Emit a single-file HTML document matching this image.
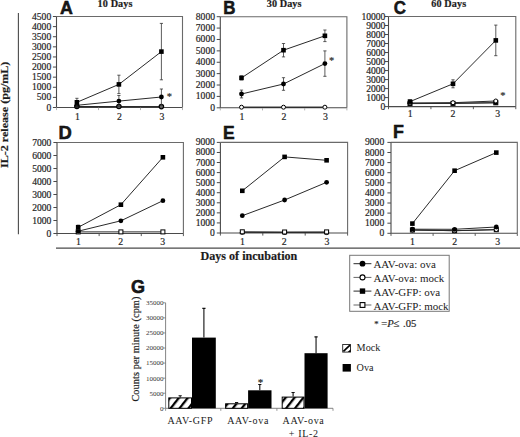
<!DOCTYPE html><html><head><meta charset="utf-8"><style>html,body{margin:0;padding:0;background:#fff;}svg{display:block;}text{font-family:"Liberation Serif", serif;fill:#1a1a1a;stroke:#333;stroke-width:0.2px;} .s{font-family:"Liberation Sans", sans-serif;stroke:none;}</style></head><body>
<svg width="520" height="437" viewBox="0 0 520 437">
<rect width="520" height="437" fill="#fff"/>
<defs><pattern id="hatch" patternUnits="userSpaceOnUse" width="7" height="8" patternTransform="translate(169.5,408) rotate(38)"><rect width="7" height="8" fill="#fff"/><rect width="2.3" height="8" fill="#000"/></pattern></defs>
<path d="M56.5,16.5H182.5V107.5" fill="none" stroke="#6a6a6a" stroke-width="1.1"/>
<path d="M56.5,16.5V107.5H182.5" fill="none" stroke="#4a4a4a" stroke-width="1.1"/>
<line x1="52.90" y1="107.50" x2="56.50" y2="107.50" stroke="#4a4a4a" stroke-width="1"/>
<text x="51.20" y="110.50" text-anchor="end" font-size="9.6">0</text>
<line x1="52.90" y1="97.39" x2="56.50" y2="97.39" stroke="#4a4a4a" stroke-width="1"/>
<text x="51.20" y="100.39" text-anchor="end" font-size="9.6">500</text>
<line x1="52.90" y1="87.28" x2="56.50" y2="87.28" stroke="#4a4a4a" stroke-width="1"/>
<text x="51.20" y="90.28" text-anchor="end" font-size="9.6">1000</text>
<line x1="52.90" y1="77.17" x2="56.50" y2="77.17" stroke="#4a4a4a" stroke-width="1"/>
<text x="51.20" y="80.17" text-anchor="end" font-size="9.6">1500</text>
<line x1="52.90" y1="67.06" x2="56.50" y2="67.06" stroke="#4a4a4a" stroke-width="1"/>
<text x="51.20" y="70.06" text-anchor="end" font-size="9.6">2000</text>
<line x1="52.90" y1="56.94" x2="56.50" y2="56.94" stroke="#4a4a4a" stroke-width="1"/>
<text x="51.20" y="59.94" text-anchor="end" font-size="9.6">2500</text>
<line x1="52.90" y1="46.83" x2="56.50" y2="46.83" stroke="#4a4a4a" stroke-width="1"/>
<text x="51.20" y="49.83" text-anchor="end" font-size="9.6">3000</text>
<line x1="52.90" y1="36.72" x2="56.50" y2="36.72" stroke="#4a4a4a" stroke-width="1"/>
<text x="51.20" y="39.72" text-anchor="end" font-size="9.6">3500</text>
<line x1="52.90" y1="26.61" x2="56.50" y2="26.61" stroke="#4a4a4a" stroke-width="1"/>
<text x="51.20" y="29.61" text-anchor="end" font-size="9.6">4000</text>
<line x1="52.90" y1="16.50" x2="56.50" y2="16.50" stroke="#4a4a4a" stroke-width="1"/>
<text x="51.20" y="19.50" text-anchor="end" font-size="9.6">4500</text>
<line x1="56.50" y1="107.50" x2="56.50" y2="110.10" stroke="#aaa" stroke-width="0.9"/>
<line x1="98.50" y1="107.50" x2="98.50" y2="110.10" stroke="#aaa" stroke-width="0.9"/>
<line x1="140.50" y1="107.50" x2="140.50" y2="110.10" stroke="#aaa" stroke-width="0.9"/>
<line x1="182.50" y1="107.50" x2="182.50" y2="110.10" stroke="#aaa" stroke-width="0.9"/>
<text x="77.40" y="119.90" text-anchor="middle" font-size="9.8">1</text>
<text x="119.40" y="119.90" text-anchor="middle" font-size="9.8">2</text>
<text x="161.90" y="119.90" text-anchor="middle" font-size="9.8">3</text>
<text transform="translate(60.1,13.9) scale(0.95,1)" class="s" font-weight="bold" font-size="18.8" style="stroke:#000;stroke-width:0.5px">A</text>
<text x="97.6" y="7.0" font-weight="bold" font-size="10.2" letter-spacing="0.1">10 Days</text>
<polyline points="76.90,106.80 118.90,106.80 161.40,106.80" fill="none" stroke="#2a2a2a" stroke-width="1"/>
<polyline points="76.90,106.50 118.90,106.50 161.40,106.60" fill="none" stroke="#2a2a2a" stroke-width="1"/>
<circle cx="76.90" cy="106.50" r="2.2" fill="#666" stroke="#000" stroke-width="1.2"/>
<circle cx="118.90" cy="106.50" r="2.2" fill="#666" stroke="#000" stroke-width="1.2"/>
<circle cx="161.40" cy="106.60" r="2.2" fill="#666" stroke="#000" stroke-width="1.2"/>
<polyline points="76.90,105.30 118.90,101.10 161.40,97.00" fill="none" stroke="#2a2a2a" stroke-width="1"/>
<path d="M118.90,95.50V106.70M117.30,95.50H120.50M117.30,106.70H120.50" stroke="#333" stroke-width="0.8" fill="none"/>
<path d="M161.40,89.00V105.00M159.80,89.00H163.00M159.80,105.00H163.00" stroke="#333" stroke-width="0.8" fill="none"/>
<circle cx="76.90" cy="105.30" r="2.4" fill="#000"/>
<circle cx="118.90" cy="101.10" r="2.4" fill="#000"/>
<circle cx="161.40" cy="97.00" r="2.4" fill="#000"/>
<polyline points="76.90,102.30 118.90,84.40 161.40,51.60" fill="none" stroke="#2a2a2a" stroke-width="1"/>
<path d="M76.90,98.30V106.30M75.30,98.30H78.50M75.30,106.30H78.50" stroke="#333" stroke-width="0.8" fill="none"/>
<path d="M118.90,75.20V93.60M117.30,75.20H120.50M117.30,93.60H120.50" stroke="#333" stroke-width="0.8" fill="none"/>
<path d="M161.40,23.40V79.80M159.80,23.40H163.00M159.80,79.80H163.00" stroke="#333" stroke-width="0.8" fill="none"/>
<rect x="74.60" y="100.00" width="4.6" height="4.6" fill="#000"/>
<rect x="116.60" y="82.10" width="4.6" height="4.6" fill="#000"/>
<rect x="159.10" y="49.30" width="4.6" height="4.6" fill="#000"/>
<text x="169.4" y="99.7" text-anchor="middle" font-size="10.5" style="fill:#444">*</text>
<path d="M220.3,16.7H346.9V107.8" fill="none" stroke="#6a6a6a" stroke-width="1.1"/>
<path d="M220.3,16.7V107.8H346.9" fill="none" stroke="#4a4a4a" stroke-width="1.1"/>
<line x1="216.70" y1="107.80" x2="220.30" y2="107.80" stroke="#4a4a4a" stroke-width="1"/>
<text x="215.00" y="110.80" text-anchor="end" font-size="9.6">0</text>
<line x1="216.70" y1="96.41" x2="220.30" y2="96.41" stroke="#4a4a4a" stroke-width="1"/>
<text x="215.00" y="99.41" text-anchor="end" font-size="9.6">1000</text>
<line x1="216.70" y1="85.03" x2="220.30" y2="85.03" stroke="#4a4a4a" stroke-width="1"/>
<text x="215.00" y="88.03" text-anchor="end" font-size="9.6">2000</text>
<line x1="216.70" y1="73.64" x2="220.30" y2="73.64" stroke="#4a4a4a" stroke-width="1"/>
<text x="215.00" y="76.64" text-anchor="end" font-size="9.6">3000</text>
<line x1="216.70" y1="62.25" x2="220.30" y2="62.25" stroke="#4a4a4a" stroke-width="1"/>
<text x="215.00" y="65.25" text-anchor="end" font-size="9.6">4000</text>
<line x1="216.70" y1="50.86" x2="220.30" y2="50.86" stroke="#4a4a4a" stroke-width="1"/>
<text x="215.00" y="53.86" text-anchor="end" font-size="9.6">5000</text>
<line x1="216.70" y1="39.48" x2="220.30" y2="39.48" stroke="#4a4a4a" stroke-width="1"/>
<text x="215.00" y="42.48" text-anchor="end" font-size="9.6">6000</text>
<line x1="216.70" y1="28.09" x2="220.30" y2="28.09" stroke="#4a4a4a" stroke-width="1"/>
<text x="215.00" y="31.09" text-anchor="end" font-size="9.6">7000</text>
<line x1="216.70" y1="16.70" x2="220.30" y2="16.70" stroke="#4a4a4a" stroke-width="1"/>
<text x="215.00" y="19.70" text-anchor="end" font-size="9.6">8000</text>
<line x1="220.30" y1="107.80" x2="220.30" y2="110.40" stroke="#aaa" stroke-width="0.9"/>
<line x1="262.50" y1="107.80" x2="262.50" y2="110.40" stroke="#aaa" stroke-width="0.9"/>
<line x1="304.70" y1="107.80" x2="304.70" y2="110.40" stroke="#aaa" stroke-width="0.9"/>
<line x1="346.90" y1="107.80" x2="346.90" y2="110.40" stroke="#aaa" stroke-width="0.9"/>
<text x="242.00" y="119.90" text-anchor="middle" font-size="9.8">1</text>
<text x="284.00" y="119.90" text-anchor="middle" font-size="9.8">2</text>
<text x="325.40" y="119.90" text-anchor="middle" font-size="9.8">3</text>
<text transform="translate(223.3,14.0) scale(0.9,1)" class="s" font-weight="bold" font-size="18.8" style="stroke:#000;stroke-width:0.5px">B</text>
<text x="266.7" y="7.0" font-weight="bold" font-size="10.2" letter-spacing="0.1">30 Days</text>
<polyline points="241.50,107.30 283.50,107.30 324.90,107.30" fill="none" stroke="#2a2a2a" stroke-width="1"/>
<polyline points="241.50,107.20 283.50,107.20 324.90,107.20" fill="none" stroke="#2a2a2a" stroke-width="1"/>
<circle cx="241.50" cy="107.20" r="2.0" fill="#fff" stroke="#000" stroke-width="1"/>
<circle cx="283.50" cy="107.20" r="2.0" fill="#fff" stroke="#000" stroke-width="1"/>
<circle cx="324.90" cy="107.20" r="2.0" fill="#fff" stroke="#000" stroke-width="1"/>
<polyline points="241.50,94.00 283.50,84.00 324.90,63.60" fill="none" stroke="#2a2a2a" stroke-width="1"/>
<path d="M241.50,90.10V97.90M239.90,90.10H243.10M239.90,97.90H243.10" stroke="#333" stroke-width="0.8" fill="none"/>
<path d="M283.50,77.70V90.30M281.90,77.70H285.10M281.90,90.30H285.10" stroke="#333" stroke-width="0.8" fill="none"/>
<path d="M324.90,50.90V76.30M323.30,50.90H326.50M323.30,76.30H326.50" stroke="#333" stroke-width="0.8" fill="none"/>
<circle cx="241.50" cy="94.00" r="2.4" fill="#000"/>
<circle cx="283.50" cy="84.00" r="2.4" fill="#000"/>
<circle cx="324.90" cy="63.60" r="2.4" fill="#000"/>
<polyline points="241.50,77.90 283.50,50.20 324.90,35.80" fill="none" stroke="#2a2a2a" stroke-width="1"/>
<path d="M241.50,75.90V79.90M239.90,75.90H243.10M239.90,79.90H243.10" stroke="#333" stroke-width="0.8" fill="none"/>
<path d="M283.50,43.50V56.90M281.90,43.50H285.10M281.90,56.90H285.10" stroke="#333" stroke-width="0.8" fill="none"/>
<path d="M324.90,30.00V41.60M323.30,30.00H326.50M323.30,41.60H326.50" stroke="#333" stroke-width="0.8" fill="none"/>
<rect x="239.20" y="75.60" width="4.6" height="4.6" fill="#000"/>
<rect x="281.20" y="47.90" width="4.6" height="4.6" fill="#000"/>
<rect x="322.60" y="33.50" width="4.6" height="4.6" fill="#000"/>
<text x="331.7" y="64.4" text-anchor="middle" font-size="10.5" style="fill:#444">*</text>
<path d="M388.5,16.5H515.8V106.6" fill="none" stroke="#6a6a6a" stroke-width="1.1"/>
<path d="M388.5,16.5V106.6H515.8" fill="none" stroke="#4a4a4a" stroke-width="1.1"/>
<line x1="384.90" y1="106.60" x2="388.50" y2="106.60" stroke="#4a4a4a" stroke-width="1"/>
<text x="385.40" y="109.60" text-anchor="end" font-size="9.6">0</text>
<line x1="384.90" y1="97.59" x2="388.50" y2="97.59" stroke="#4a4a4a" stroke-width="1"/>
<text x="385.40" y="100.59" text-anchor="end" font-size="9.6">1000</text>
<line x1="384.90" y1="88.58" x2="388.50" y2="88.58" stroke="#4a4a4a" stroke-width="1"/>
<text x="385.40" y="91.58" text-anchor="end" font-size="9.6">2000</text>
<line x1="384.90" y1="79.57" x2="388.50" y2="79.57" stroke="#4a4a4a" stroke-width="1"/>
<text x="385.40" y="82.57" text-anchor="end" font-size="9.6">3000</text>
<line x1="384.90" y1="70.56" x2="388.50" y2="70.56" stroke="#4a4a4a" stroke-width="1"/>
<text x="385.40" y="73.56" text-anchor="end" font-size="9.6">4000</text>
<line x1="384.90" y1="61.55" x2="388.50" y2="61.55" stroke="#4a4a4a" stroke-width="1"/>
<text x="385.40" y="64.55" text-anchor="end" font-size="9.6">5000</text>
<line x1="384.90" y1="52.54" x2="388.50" y2="52.54" stroke="#4a4a4a" stroke-width="1"/>
<text x="385.40" y="55.54" text-anchor="end" font-size="9.6">6000</text>
<line x1="384.90" y1="43.53" x2="388.50" y2="43.53" stroke="#4a4a4a" stroke-width="1"/>
<text x="385.40" y="46.53" text-anchor="end" font-size="9.6">7000</text>
<line x1="384.90" y1="34.52" x2="388.50" y2="34.52" stroke="#4a4a4a" stroke-width="1"/>
<text x="385.40" y="37.52" text-anchor="end" font-size="9.6">8000</text>
<line x1="384.90" y1="25.51" x2="388.50" y2="25.51" stroke="#4a4a4a" stroke-width="1"/>
<text x="385.40" y="28.51" text-anchor="end" font-size="9.6">9000</text>
<line x1="384.90" y1="16.50" x2="388.50" y2="16.50" stroke="#4a4a4a" stroke-width="1"/>
<text x="385.40" y="19.50" text-anchor="end" font-size="9.6">10000</text>
<line x1="388.50" y1="106.60" x2="388.50" y2="109.20" stroke="#4a4a4a" stroke-width="0.9"/>
<line x1="430.93" y1="106.60" x2="430.93" y2="109.20" stroke="#4a4a4a" stroke-width="0.9"/>
<line x1="473.37" y1="106.60" x2="473.37" y2="109.20" stroke="#4a4a4a" stroke-width="0.9"/>
<line x1="515.80" y1="106.60" x2="515.80" y2="109.20" stroke="#4a4a4a" stroke-width="0.9"/>
<text x="410.20" y="117.30" text-anchor="middle" font-size="9.8">1</text>
<text x="453.00" y="117.30" text-anchor="middle" font-size="9.8">2</text>
<text x="497.60" y="117.30" text-anchor="middle" font-size="9.8">3</text>
<text transform="translate(393.8,13.9) scale(0.9,1)" class="s" font-weight="bold" font-size="18.8" style="stroke:#000;stroke-width:0.5px">C</text>
<text x="431.3" y="7.0" font-weight="bold" font-size="10.2" letter-spacing="0.1">60 Days</text>
<polyline points="410.00,103.60 453.00,103.40 495.80,102.80" fill="none" stroke="#2a2a2a" stroke-width="1"/>
<rect x="408.00" y="101.60" width="4" height="4" fill="#fff" stroke="#000" stroke-width="1"/>
<rect x="451.00" y="101.40" width="4" height="4" fill="#fff" stroke="#000" stroke-width="1"/>
<rect x="493.80" y="100.80" width="4" height="4" fill="#fff" stroke="#000" stroke-width="1"/>
<polyline points="410.00,103.40 453.00,103.20 495.80,102.70" fill="none" stroke="#2a2a2a" stroke-width="1"/>
<circle cx="410.00" cy="103.40" r="2.4" fill="#000"/>
<circle cx="453.00" cy="103.20" r="2.4" fill="#000"/>
<circle cx="495.80" cy="102.70" r="2.4" fill="#000"/>
<polyline points="410.00,103.00 453.00,102.70 495.80,101.00" fill="none" stroke="#2a2a2a" stroke-width="1"/>
<circle cx="410.00" cy="103.00" r="2.0" fill="#fff" stroke="#000" stroke-width="1"/>
<circle cx="453.00" cy="102.70" r="2.0" fill="#fff" stroke="#000" stroke-width="1"/>
<circle cx="495.80" cy="101.00" r="2.0" fill="#fff" stroke="#000" stroke-width="1"/>
<polyline points="410.00,101.60 453.00,83.80 495.80,40.40" fill="none" stroke="#2a2a2a" stroke-width="1"/>
<path d="M410.00,100.10V103.10M408.40,100.10H411.60M408.40,103.10H411.60" stroke="#333" stroke-width="0.8" fill="none"/>
<path d="M453.00,79.80V87.80M451.40,79.80H454.60M451.40,87.80H454.60" stroke="#333" stroke-width="0.8" fill="none"/>
<path d="M495.80,25.10V55.70M494.20,25.10H497.40M494.20,55.70H497.40" stroke="#333" stroke-width="0.8" fill="none"/>
<rect x="407.70" y="99.30" width="4.6" height="4.6" fill="#000"/>
<rect x="450.70" y="81.50" width="4.6" height="4.6" fill="#000"/>
<rect x="493.50" y="38.10" width="4.6" height="4.6" fill="#000"/>
<text x="502.9" y="98.8" text-anchor="middle" font-size="10.5" style="fill:#444">*</text>
<path d="M57.0,142.5H183.4V233.5" fill="none" stroke="#6a6a6a" stroke-width="1.1"/>
<path d="M57.0,142.5V233.5H183.4" fill="none" stroke="#4a4a4a" stroke-width="1.1"/>
<line x1="53.40" y1="233.50" x2="57.00" y2="233.50" stroke="#4a4a4a" stroke-width="1"/>
<text x="51.40" y="236.50" text-anchor="end" font-size="9.6">0</text>
<line x1="53.40" y1="220.50" x2="57.00" y2="220.50" stroke="#4a4a4a" stroke-width="1"/>
<text x="51.40" y="223.50" text-anchor="end" font-size="9.6">1000</text>
<line x1="53.40" y1="207.50" x2="57.00" y2="207.50" stroke="#4a4a4a" stroke-width="1"/>
<text x="51.40" y="210.50" text-anchor="end" font-size="9.6">2000</text>
<line x1="53.40" y1="194.50" x2="57.00" y2="194.50" stroke="#4a4a4a" stroke-width="1"/>
<text x="51.40" y="197.50" text-anchor="end" font-size="9.6">3000</text>
<line x1="53.40" y1="181.50" x2="57.00" y2="181.50" stroke="#4a4a4a" stroke-width="1"/>
<text x="51.40" y="184.50" text-anchor="end" font-size="9.6">4000</text>
<line x1="53.40" y1="168.50" x2="57.00" y2="168.50" stroke="#4a4a4a" stroke-width="1"/>
<text x="51.40" y="171.50" text-anchor="end" font-size="9.6">5000</text>
<line x1="53.40" y1="155.50" x2="57.00" y2="155.50" stroke="#4a4a4a" stroke-width="1"/>
<text x="51.40" y="158.50" text-anchor="end" font-size="9.6">6000</text>
<line x1="53.40" y1="142.50" x2="57.00" y2="142.50" stroke="#4a4a4a" stroke-width="1"/>
<text x="51.40" y="145.50" text-anchor="end" font-size="9.6">7000</text>
<line x1="57.00" y1="233.50" x2="57.00" y2="236.10" stroke="#4a4a4a" stroke-width="0.9"/>
<line x1="99.13" y1="233.50" x2="99.13" y2="236.10" stroke="#4a4a4a" stroke-width="0.9"/>
<line x1="141.27" y1="233.50" x2="141.27" y2="236.10" stroke="#4a4a4a" stroke-width="0.9"/>
<line x1="183.40" y1="233.50" x2="183.40" y2="236.10" stroke="#4a4a4a" stroke-width="0.9"/>
<text x="78.40" y="245.30" text-anchor="middle" font-size="9.8">1</text>
<text x="120.70" y="245.30" text-anchor="middle" font-size="9.8">2</text>
<text x="162.60" y="245.30" text-anchor="middle" font-size="9.8">3</text>
<text transform="translate(58.4,139.2) scale(0.98,1)" class="s" font-weight="bold" font-size="18.8" style="stroke:#000;stroke-width:0.5px">D</text>
<polyline points="78.20,231.90 120.90,231.90 162.90,231.90" fill="none" stroke="#2a2a2a" stroke-width="1"/>
<rect x="76.20" y="229.90" width="4" height="4" fill="#fff" stroke="#000" stroke-width="1"/>
<rect x="118.90" y="229.90" width="4" height="4" fill="#fff" stroke="#000" stroke-width="1"/>
<rect x="160.90" y="229.90" width="4" height="4" fill="#fff" stroke="#000" stroke-width="1"/>
<polyline points="78.20,231.20 120.90,220.80 162.90,200.70" fill="none" stroke="#2a2a2a" stroke-width="1"/>
<circle cx="78.20" cy="231.20" r="2.4" fill="#000"/>
<circle cx="120.90" cy="220.80" r="2.4" fill="#000"/>
<circle cx="162.90" cy="200.70" r="2.4" fill="#000"/>
<polyline points="78.20,227.30 120.90,204.70 162.90,157.30" fill="none" stroke="#2a2a2a" stroke-width="1"/>
<path d="M78.20,225.10V229.50M76.60,225.10H79.80M76.60,229.50H79.80" stroke="#333" stroke-width="0.8" fill="none"/>
<rect x="75.90" y="225.00" width="4.6" height="4.6" fill="#000"/>
<rect x="118.60" y="202.40" width="4.6" height="4.6" fill="#000"/>
<rect x="160.60" y="155.00" width="4.6" height="4.6" fill="#000"/>
<path d="M220.4,142.4H347.6V233.0" fill="none" stroke="#6a6a6a" stroke-width="1.1"/>
<path d="M220.4,142.4V233.0H347.6" fill="none" stroke="#4a4a4a" stroke-width="1.1"/>
<line x1="216.80" y1="233.00" x2="220.40" y2="233.00" stroke="#4a4a4a" stroke-width="1"/>
<text x="214.90" y="236.00" text-anchor="end" font-size="9.6">0</text>
<line x1="216.80" y1="222.93" x2="220.40" y2="222.93" stroke="#4a4a4a" stroke-width="1"/>
<text x="214.90" y="225.93" text-anchor="end" font-size="9.6">1000</text>
<line x1="216.80" y1="212.87" x2="220.40" y2="212.87" stroke="#4a4a4a" stroke-width="1"/>
<text x="214.90" y="215.87" text-anchor="end" font-size="9.6">2000</text>
<line x1="216.80" y1="202.80" x2="220.40" y2="202.80" stroke="#4a4a4a" stroke-width="1"/>
<text x="214.90" y="205.80" text-anchor="end" font-size="9.6">3000</text>
<line x1="216.80" y1="192.73" x2="220.40" y2="192.73" stroke="#4a4a4a" stroke-width="1"/>
<text x="214.90" y="195.73" text-anchor="end" font-size="9.6">4000</text>
<line x1="216.80" y1="182.67" x2="220.40" y2="182.67" stroke="#4a4a4a" stroke-width="1"/>
<text x="214.90" y="185.67" text-anchor="end" font-size="9.6">5000</text>
<line x1="216.80" y1="172.60" x2="220.40" y2="172.60" stroke="#4a4a4a" stroke-width="1"/>
<text x="214.90" y="175.60" text-anchor="end" font-size="9.6">6000</text>
<line x1="216.80" y1="162.53" x2="220.40" y2="162.53" stroke="#4a4a4a" stroke-width="1"/>
<text x="214.90" y="165.53" text-anchor="end" font-size="9.6">7000</text>
<line x1="216.80" y1="152.47" x2="220.40" y2="152.47" stroke="#4a4a4a" stroke-width="1"/>
<text x="214.90" y="155.47" text-anchor="end" font-size="9.6">8000</text>
<line x1="216.80" y1="142.40" x2="220.40" y2="142.40" stroke="#4a4a4a" stroke-width="1"/>
<text x="214.90" y="145.40" text-anchor="end" font-size="9.6">9000</text>
<line x1="220.40" y1="233.00" x2="220.40" y2="235.60" stroke="#4a4a4a" stroke-width="0.9"/>
<line x1="262.80" y1="233.00" x2="262.80" y2="235.60" stroke="#4a4a4a" stroke-width="0.9"/>
<line x1="305.20" y1="233.00" x2="305.20" y2="235.60" stroke="#4a4a4a" stroke-width="0.9"/>
<line x1="347.60" y1="233.00" x2="347.60" y2="235.60" stroke="#4a4a4a" stroke-width="0.9"/>
<text x="242.50" y="245.30" text-anchor="middle" font-size="9.8">1</text>
<text x="284.30" y="245.30" text-anchor="middle" font-size="9.8">2</text>
<text x="326.90" y="245.30" text-anchor="middle" font-size="9.8">3</text>
<text transform="translate(223.0,138.7) scale(0.93,1)" class="s" font-weight="bold" font-size="18.8" style="stroke:#000;stroke-width:0.5px">E</text>
<polyline points="242.30,232.40 284.60,232.50 326.60,232.60" fill="none" stroke="#2a2a2a" stroke-width="1"/>
<circle cx="242.30" cy="232.40" r="2.0" fill="#fff" stroke="#000" stroke-width="1"/>
<circle cx="284.60" cy="232.50" r="2.0" fill="#fff" stroke="#000" stroke-width="1"/>
<circle cx="326.60" cy="232.60" r="2.0" fill="#fff" stroke="#000" stroke-width="1"/>
<polyline points="242.30,231.80 284.60,232.00 326.60,231.90" fill="none" stroke="#2a2a2a" stroke-width="1"/>
<rect x="240.30" y="229.80" width="4" height="4" fill="#fff" stroke="#000" stroke-width="1"/>
<rect x="282.60" y="230.00" width="4" height="4" fill="#fff" stroke="#000" stroke-width="1"/>
<rect x="324.60" y="229.90" width="4" height="4" fill="#fff" stroke="#000" stroke-width="1"/>
<polyline points="242.30,215.70 284.60,200.00 326.60,182.30" fill="none" stroke="#2a2a2a" stroke-width="1"/>
<circle cx="242.30" cy="215.70" r="2.4" fill="#000"/>
<circle cx="284.60" cy="200.00" r="2.4" fill="#000"/>
<circle cx="326.60" cy="182.30" r="2.4" fill="#000"/>
<polyline points="242.30,190.80 284.60,156.90 326.60,160.30" fill="none" stroke="#2a2a2a" stroke-width="1"/>
<rect x="240.00" y="188.50" width="4.6" height="4.6" fill="#000"/>
<rect x="282.30" y="154.60" width="4.6" height="4.6" fill="#000"/>
<rect x="324.30" y="158.00" width="4.6" height="4.6" fill="#000"/>
<path d="M391.0,142.4H517.3V233.3" fill="none" stroke="#6a6a6a" stroke-width="1.1"/>
<path d="M391.0,142.4V233.3H517.3" fill="none" stroke="#4a4a4a" stroke-width="1.1"/>
<line x1="387.40" y1="233.30" x2="391.00" y2="233.30" stroke="#4a4a4a" stroke-width="1"/>
<text x="384.20" y="236.30" text-anchor="end" font-size="9.6">0</text>
<line x1="387.40" y1="223.20" x2="391.00" y2="223.20" stroke="#4a4a4a" stroke-width="1"/>
<text x="384.20" y="226.20" text-anchor="end" font-size="9.6">1000</text>
<line x1="387.40" y1="213.10" x2="391.00" y2="213.10" stroke="#4a4a4a" stroke-width="1"/>
<text x="384.20" y="216.10" text-anchor="end" font-size="9.6">2000</text>
<line x1="387.40" y1="203.00" x2="391.00" y2="203.00" stroke="#4a4a4a" stroke-width="1"/>
<text x="384.20" y="206.00" text-anchor="end" font-size="9.6">3000</text>
<line x1="387.40" y1="192.90" x2="391.00" y2="192.90" stroke="#4a4a4a" stroke-width="1"/>
<text x="384.20" y="195.90" text-anchor="end" font-size="9.6">4000</text>
<line x1="387.40" y1="182.80" x2="391.00" y2="182.80" stroke="#4a4a4a" stroke-width="1"/>
<text x="384.20" y="185.80" text-anchor="end" font-size="9.6">5000</text>
<line x1="387.40" y1="172.70" x2="391.00" y2="172.70" stroke="#4a4a4a" stroke-width="1"/>
<text x="384.20" y="175.70" text-anchor="end" font-size="9.6">6000</text>
<line x1="387.40" y1="162.60" x2="391.00" y2="162.60" stroke="#4a4a4a" stroke-width="1"/>
<text x="384.20" y="165.60" text-anchor="end" font-size="9.6">7000</text>
<line x1="387.40" y1="152.50" x2="391.00" y2="152.50" stroke="#4a4a4a" stroke-width="1"/>
<text x="384.20" y="155.50" text-anchor="end" font-size="9.6">8000</text>
<line x1="387.40" y1="142.40" x2="391.00" y2="142.40" stroke="#4a4a4a" stroke-width="1"/>
<text x="384.20" y="145.40" text-anchor="end" font-size="9.6">9000</text>
<line x1="391.00" y1="233.30" x2="391.00" y2="235.90" stroke="#4a4a4a" stroke-width="0.9"/>
<line x1="433.10" y1="233.30" x2="433.10" y2="235.90" stroke="#4a4a4a" stroke-width="0.9"/>
<line x1="475.20" y1="233.30" x2="475.20" y2="235.90" stroke="#4a4a4a" stroke-width="0.9"/>
<line x1="517.30" y1="233.30" x2="517.30" y2="235.90" stroke="#4a4a4a" stroke-width="0.9"/>
<text x="412.50" y="245.30" text-anchor="middle" font-size="9.8">1</text>
<text x="454.60" y="245.30" text-anchor="middle" font-size="9.8">2</text>
<text x="497.80" y="245.30" text-anchor="middle" font-size="9.8">3</text>
<text transform="translate(393.0,138.3) scale(0.95,1)" class="s" font-weight="bold" font-size="18.8" style="stroke:#000;stroke-width:0.5px">F</text>
<polyline points="412.40,230.00 454.60,230.70 496.30,229.70" fill="none" stroke="#2a2a2a" stroke-width="1"/>
<rect x="410.40" y="228.00" width="4" height="4" fill="#fff" stroke="#000" stroke-width="1"/>
<rect x="452.60" y="228.70" width="4" height="4" fill="#fff" stroke="#000" stroke-width="1"/>
<rect x="494.30" y="227.70" width="4" height="4" fill="#fff" stroke="#000" stroke-width="1"/>
<polyline points="412.40,230.00 454.60,230.70 496.30,229.60" fill="none" stroke="#2a2a2a" stroke-width="1"/>
<circle cx="412.40" cy="230.00" r="2.0" fill="#fff" stroke="#000" stroke-width="1"/>
<circle cx="454.60" cy="230.70" r="2.0" fill="#fff" stroke="#000" stroke-width="1"/>
<circle cx="496.30" cy="229.60" r="2.0" fill="#fff" stroke="#000" stroke-width="1"/>
<polyline points="412.40,229.20 454.60,229.30 496.30,227.00" fill="none" stroke="#2a2a2a" stroke-width="1"/>
<circle cx="412.40" cy="229.20" r="2.4" fill="#000"/>
<circle cx="454.60" cy="229.30" r="2.4" fill="#000"/>
<circle cx="496.30" cy="227.00" r="2.4" fill="#000"/>
<polyline points="412.40,223.60 454.60,170.70 496.30,152.60" fill="none" stroke="#2a2a2a" stroke-width="1"/>
<rect x="410.10" y="221.30" width="4.6" height="4.6" fill="#000"/>
<rect x="452.30" y="168.40" width="4.6" height="4.6" fill="#000"/>
<rect x="494.00" y="150.30" width="4.6" height="4.6" fill="#000"/>
<line x1="18.4" y1="13" x2="18.4" y2="234.3" stroke="#4a4a4a" stroke-width="1.1"/>
<text transform="translate(8.3,168.0) rotate(-90)" font-weight="bold" font-size="11" textLength="106.4" lengthAdjust="spacingAndGlyphs">IL-2 release (pg/mL)</text>
<line x1="56" y1="248.2" x2="520" y2="248.2" stroke="#4a4a4a" stroke-width="1.2"/>
<text x="200.5" y="259.9" font-weight="bold" font-size="12.1">Days of incubation</text>
<rect x="349.7" y="255.3" width="99.5" height="56" fill="#fff" stroke="#777" stroke-width="1"/>
<line x1="353.5" y1="263.7" x2="371.4" y2="263.7" stroke="#2a2a2a" stroke-width="1"/>
<circle cx="362.5" cy="263.7" r="2.9" fill="#000"/>
<text transform="translate(373.4,268.2) scale(1.015,1)" font-size="10.8" style="stroke:none;fill:#1a1a1a">AAV-ova: ova</text>
<line x1="353.5" y1="277.4" x2="371.4" y2="277.4" stroke="#666" stroke-width="1"/>
<circle cx="362.5" cy="277.4" r="2.5" fill="#fff" stroke="#000" stroke-width="1.1"/>
<text transform="translate(373.4,281.9) scale(1.015,1)" font-size="10.8" style="stroke:none;fill:#1a1a1a">AAV-ova: mock</text>
<line x1="353.5" y1="291.1" x2="371.4" y2="291.1" stroke="#2a2a2a" stroke-width="1"/>
<rect x="359.8" y="288.40000000000003" width="5.4" height="5.4" fill="#000"/>
<text transform="translate(373.4,295.6) scale(1.015,1)" font-size="10.8" style="stroke:none;fill:#1a1a1a">AAV-GFP: ova</text>
<line x1="353.5" y1="305.0" x2="371.4" y2="305.0" stroke="#666" stroke-width="1"/>
<rect x="360.1" y="302.6" width="4.8" height="4.8" fill="#fff" stroke="#000" stroke-width="1.1"/>
<text transform="translate(373.4,309.5) scale(1.015,1)" font-size="10.8" style="stroke:none;fill:#1a1a1a">AAV-GFP: mock</text>
<text x="374.3" y="327.3" font-size="10.6"><tspan font-size="8.6" dy="-0.6">*</tspan><tspan dy="0.6"> =</tspan><tspan font-style="italic">P</tspan>&#8804;<tspan dx="0.8"> .05</tspan></text>
<text transform="translate(130.9,293.0) scale(0.96,1)" class="s" font-weight="bold" font-size="18.8" style="stroke:#000;stroke-width:0.5px">G</text>
<line x1="165.6" y1="302.8" x2="165.6" y2="408.3" stroke="#777" stroke-width="0.9"/>
<line x1="165.6" y1="408.3" x2="333" y2="408.3" stroke="#777" stroke-width="0.9"/>
<line x1="163.1" y1="408.30" x2="165.6" y2="408.30" stroke="#777" stroke-width="0.8"/>
<text x="163.40" y="410.70" text-anchor="end" font-size="7" style="stroke:none;fill:#333">0</text>
<line x1="163.1" y1="393.23" x2="165.6" y2="393.23" stroke="#777" stroke-width="0.8"/>
<text x="163.40" y="395.63" text-anchor="end" font-size="7" style="stroke:none;fill:#333">5000</text>
<line x1="163.1" y1="378.16" x2="165.6" y2="378.16" stroke="#777" stroke-width="0.8"/>
<text x="163.40" y="380.56" text-anchor="end" font-size="7" style="stroke:none;fill:#333">10000</text>
<line x1="163.1" y1="363.09" x2="165.6" y2="363.09" stroke="#777" stroke-width="0.8"/>
<text x="163.40" y="365.49" text-anchor="end" font-size="7" style="stroke:none;fill:#333">15000</text>
<line x1="163.1" y1="348.01" x2="165.6" y2="348.01" stroke="#777" stroke-width="0.8"/>
<text x="163.40" y="350.41" text-anchor="end" font-size="7" style="stroke:none;fill:#333">20000</text>
<line x1="163.1" y1="332.94" x2="165.6" y2="332.94" stroke="#777" stroke-width="0.8"/>
<text x="163.40" y="335.34" text-anchor="end" font-size="7" style="stroke:none;fill:#333">25000</text>
<line x1="163.1" y1="317.87" x2="165.6" y2="317.87" stroke="#777" stroke-width="0.8"/>
<text x="163.40" y="320.27" text-anchor="end" font-size="7" style="stroke:none;fill:#333">30000</text>
<line x1="163.1" y1="302.80" x2="165.6" y2="302.80" stroke="#777" stroke-width="0.8"/>
<text x="163.40" y="305.20" text-anchor="end" font-size="7" style="stroke:none;fill:#333">35000</text>
<line x1="165.6" y1="408.3" x2="165.6" y2="410.8" stroke="#777" stroke-width="0.8"/>
<line x1="220.8" y1="408.3" x2="220.8" y2="410.8" stroke="#777" stroke-width="0.8"/>
<line x1="276.9" y1="408.3" x2="276.9" y2="410.8" stroke="#777" stroke-width="0.8"/>
<line x1="333" y1="408.3" x2="333" y2="410.8" stroke="#777" stroke-width="0.8"/>
<text transform="translate(138.7,401.6) rotate(-90)" font-size="10.3" textLength="105" lengthAdjust="spacing">Counts per minute (cpm)</text>
<path d="M203.90,337.6V308.4M202.30,308.4H205.50" stroke="#111" stroke-width="1.1" fill="none"/>
<path d="M180.15,397.4V395.8M178.55,395.8H181.75" stroke="#111" stroke-width="1.1" fill="none"/>
<rect x="168.80" y="397.90" width="22.70" height="10.40" fill="url(#hatch)" stroke="#000" stroke-width="1"/>
<rect x="192.00" y="337.60" width="23.80" height="70.70" fill="#000"/>
<path d="M259.80,390.3V384.5M258.20,384.5H261.40" stroke="#111" stroke-width="1.1" fill="none"/>
<path d="M236.60,403.3V402.6M235.00,402.6H238.20" stroke="#111" stroke-width="1.1" fill="none"/>
<rect x="225.60" y="403.80" width="22.00" height="4.50" fill="url(#hatch)" stroke="#000" stroke-width="1"/>
<rect x="248.10" y="390.30" width="23.40" height="18.00" fill="#000"/>
<path d="M316.05,353.2V336.9M314.45,336.9H317.65" stroke="#111" stroke-width="1.1" fill="none"/>
<path d="M293.10,396.6V392.5M291.50,392.5H294.70" stroke="#111" stroke-width="1.1" fill="none"/>
<rect x="282.20" y="397.10" width="21.80" height="11.20" fill="url(#hatch)" stroke="#000" stroke-width="1"/>
<rect x="304.50" y="353.20" width="23.10" height="55.10" fill="#000"/>
<text x="260.5" y="385.6" text-anchor="middle" font-size="11" style="fill:#333">*</text>
<text x="190.3" y="424.3" text-anchor="middle" font-size="10" letter-spacing="0.65" style="stroke:none">AAV-GFP</text>
<text x="248.1" y="424.3" text-anchor="middle" font-size="10" letter-spacing="0.65" style="stroke:none">AAV-ova</text>
<text x="303.5" y="424.3" text-anchor="middle" font-size="10" letter-spacing="0.65" style="stroke:none">AAV-ova</text>
<text x="303.7" y="436.6" text-anchor="middle" font-size="10" letter-spacing="0.65" style="stroke:none">+ IL-2</text>
<rect x="342.7" y="344.5" width="7.8" height="7.6" fill="#fff" stroke="#222" stroke-width="0.9"/>
<line x1="343.4" y1="351.4" x2="350.0" y2="345.2" stroke="#000" stroke-width="1.7"/>
<path d="M350.6,349.2V352.1H347.7Z" fill="#000"/>
<rect x="342.6" y="364.0" width="8.3" height="7.6" fill="#000"/>
<text x="356.6" y="351.2" font-size="10.2" style="stroke:none">Mock</text>
<text x="356.6" y="370.8" font-size="10.2" style="stroke:none">Ova</text>
</svg></body></html>
